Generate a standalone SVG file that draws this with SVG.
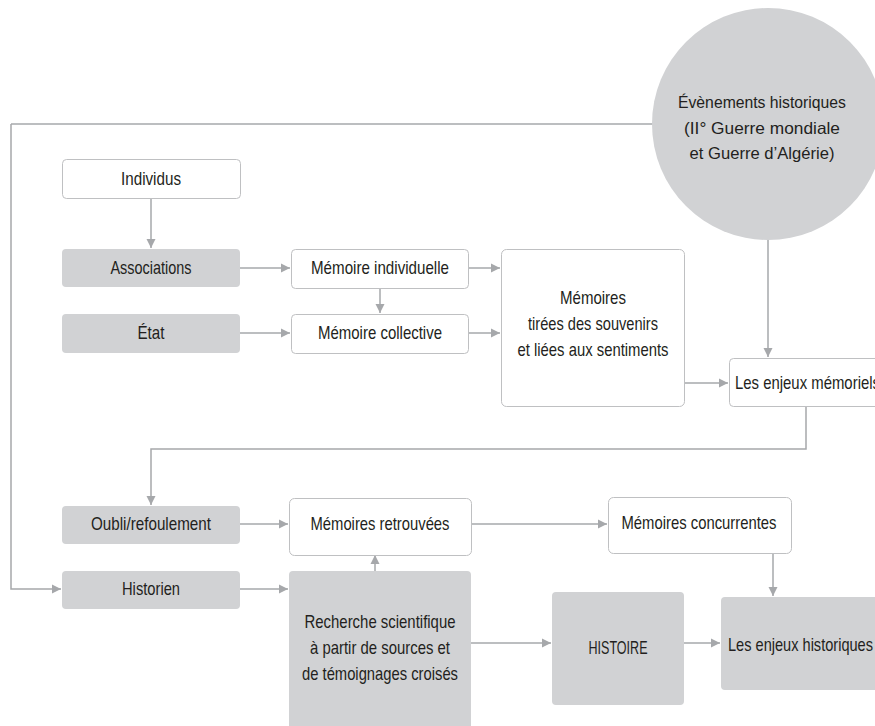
<svg xmlns="http://www.w3.org/2000/svg" width="875" height="726" viewBox="0 0 875 726">
<style>
.box{fill:#ffffff;stroke:#bfc0c2;stroke-width:1}
.gbox{fill:#d1d2d4;stroke:none}
.t{font-family:"Liberation Sans",Arial,sans-serif;font-size:19px;fill:#231f20;text-anchor:middle}
.s{text-anchor:start}
.tc{font-family:"Liberation Sans",Arial,sans-serif;font-size:16.5px;fill:#231f20;text-anchor:middle}
.c{fill:none;stroke:#a6a8ab;stroke-width:1.5}
</style>
<defs>
<marker id="ah" markerUnits="userSpaceOnUse" markerWidth="10" markerHeight="10" viewBox="0 0 10 10" refX="9" refY="5" orient="auto">
<path d="M0,0.5 L9,5 L0,9.5 Z" fill="#a6a8ab"/>
</marker>
</defs>
<rect width="875" height="726" fill="#ffffff"/>
<g id="connectors">
<path class="c" d="M11 124 H653"/>
<path class="c" d="M11 124 V589 H61" marker-end="url(#ah)"/>
<path class="c" d="M151 198 V248" marker-end="url(#ah)"/>
<path class="c" d="M240 268 H290" marker-end="url(#ah)"/>
<path class="c" d="M468 268 H500" marker-end="url(#ah)"/>
<path class="c" d="M380 288 V313" marker-end="url(#ah)"/>
<path class="c" d="M240 333 H290" marker-end="url(#ah)"/>
<path class="c" d="M468 333 H500" marker-end="url(#ah)"/>
<path class="c" d="M768 240 V357" marker-end="url(#ah)"/>
<path class="c" d="M684 383 H728" marker-end="url(#ah)"/>
<path class="c" d="M806 406 V449 H151 V505" marker-end="url(#ah)"/>
<path class="c" d="M240 524 H288" marker-end="url(#ah)"/>
<path class="c" d="M471 524 H607" marker-end="url(#ah)"/>
<path class="c" d="M773 553 V596" marker-end="url(#ah)"/>
<path class="c" d="M240 589 H288" marker-end="url(#ah)"/>
<path class="c" d="M375 571 V555" marker-end="url(#ah)"/>
<path class="c" d="M471 643 H551" marker-end="url(#ah)"/>
<path class="c" d="M684 643 H720" marker-end="url(#ah)"/>
</g>
<g id="evenements">
<circle cx="768" cy="124" r="116" fill="#d1d2d4"/>
<text class="tc" x="762" y="108" textLength="168" lengthAdjust="spacingAndGlyphs">Évènements historiques</text>
<text class="tc" x="762" y="134" textLength="156" lengthAdjust="spacingAndGlyphs">(II° Guerre mondiale</text>
<text class="tc" x="762" y="159" textLength="145" lengthAdjust="spacingAndGlyphs">et Guerre d’Algérie)</text>
</g>
<g id="individus">
<rect class="box" x="62.5" y="159.5" width="178" height="39" rx="4"/>
<text class="t" x="151" y="185" textLength="60" lengthAdjust="spacingAndGlyphs">Individus</text>
</g>
<g id="associations">
<rect class="gbox" x="62" y="249" width="178" height="38" rx="4"/>
<text class="t" x="151" y="274" textLength="81" lengthAdjust="spacingAndGlyphs">Associations</text>
</g>
<g id="etat">
<rect class="gbox" x="62" y="314" width="178" height="39" rx="4"/>
<text class="t" x="151" y="339" textLength="27" lengthAdjust="spacingAndGlyphs">État</text>
</g>
<g id="memoire-individuelle">
<rect class="box" x="291.5" y="249.5" width="177" height="39" rx="4"/>
<text class="t" x="380" y="274" textLength="138" lengthAdjust="spacingAndGlyphs">Mémoire individuelle</text>
</g>
<g id="memoire-collective">
<rect class="box" x="291.5" y="314.5" width="177" height="39" rx="4"/>
<text class="t" x="380" y="339" textLength="124" lengthAdjust="spacingAndGlyphs">Mémoire collective</text>
</g>
<g id="memoires">
<rect class="box" x="501.5" y="249.5" width="183" height="157" rx="5"/>
<text class="t" x="593" y="304" textLength="66" lengthAdjust="spacingAndGlyphs">Mémoires</text>
<text class="t" x="593" y="330" textLength="130" lengthAdjust="spacingAndGlyphs">tirées des souvenirs</text>
<text class="t" x="593" y="356" textLength="151" lengthAdjust="spacingAndGlyphs">et liées aux sentiments</text>
</g>
<g id="enjeux-memoriels">
<rect class="box" x="729.5" y="358.5" width="170" height="48" rx="4"/>
<text class="t s" x="735" y="389" textLength="145" lengthAdjust="spacingAndGlyphs">Les enjeux mémoriels</text>
</g>
<g id="oubli">
<rect class="gbox" x="62" y="506" width="178" height="38" rx="4"/>
<text class="t" x="151" y="530" textLength="120" lengthAdjust="spacingAndGlyphs">Oubli/refoulement</text>
</g>
<g id="memoires-retrouvees">
<rect class="box" x="289.5" y="498.5" width="182" height="57" rx="5"/>
<text class="t" x="380" y="530" textLength="139" lengthAdjust="spacingAndGlyphs">Mémoires retrouvées</text>
</g>
<g id="memoires-concurrentes">
<rect class="box" x="608.5" y="497.5" width="183" height="56" rx="5"/>
<text class="t" x="699" y="529" textLength="155" lengthAdjust="spacingAndGlyphs">Mémoires concurrentes</text>
</g>
<g id="historien">
<rect class="gbox" x="62" y="571" width="178" height="38" rx="4"/>
<text class="t" x="151" y="595" textLength="58" lengthAdjust="spacingAndGlyphs">Historien</text>
</g>
<g id="recherche">
<rect class="gbox" x="289" y="571" width="182" height="165" rx="4"/>
<text class="t" x="380" y="628" textLength="151" lengthAdjust="spacingAndGlyphs">Recherche scientifique</text>
<text class="t" x="380" y="654" textLength="140" lengthAdjust="spacingAndGlyphs">à partir de sources et</text>
<text class="t" x="380" y="680" textLength="156" lengthAdjust="spacingAndGlyphs">de témoignages croisés</text>
</g>
<g id="histoire">
<rect class="gbox" x="552" y="592" width="132" height="113" rx="4"/>
<text class="t" x="618" y="654" textLength="59" lengthAdjust="spacingAndGlyphs">HISTOIRE</text>
</g>
<g id="enjeux-historiques">
<rect class="gbox" x="721" y="597" width="170" height="93" rx="4"/>
<text class="t s" x="728" y="651" textLength="145" lengthAdjust="spacingAndGlyphs">Les enjeux historiques</text>
</g>
</svg>
